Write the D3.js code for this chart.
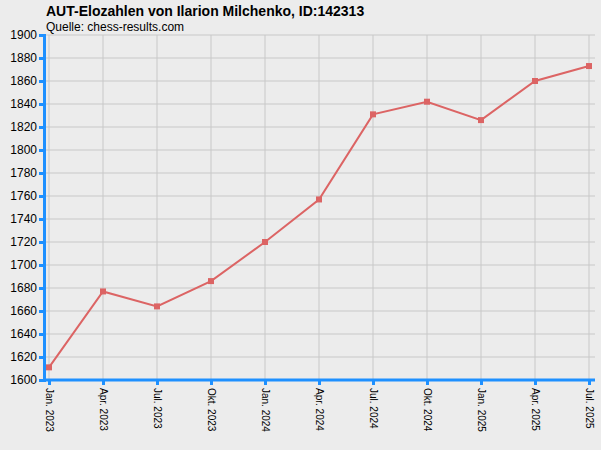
<!DOCTYPE html><html><head><meta charset="utf-8">
<script src="https://cdn.jsdelivr.net/npm/d3@7"></script>
<style>body{margin:0;background:#ececec}svg{display:block}</style></head><body>
<svg id="c" width="601" height="450"></svg>
<script>
const dates=["Jan. 2023","Apr. 2023","Jul. 2023","Okt. 2023","Jan. 2024","Apr. 2024","Jul. 2024","Okt. 2024","Jan. 2025","Apr. 2025","Jul. 2025"];
const elo=[1611,1677,1664,1686,1720,1757,1831,1842,1826,1860,1873];
const yTicks=[1600,1620,1640,1660,1680,1700,1720,1740,1760,1780,1800,1820,1840,1860,1880,1900];
const svg=d3.select("#c");
svg.append("rect").attr("width",601).attr("height",450).attr("fill","#ececec");
const L=44,R=595,T=35,B=380;
const x=d3.scalePoint().domain(dates).range([49,589]);
const y=d3.scaleLinear().domain([1600,1900]).range([B,T]);
const f="Liberation Sans, Arial, sans-serif";
const g=svg.append("g");
yTicks.forEach(t=>g.append("line").attr("x1",L).attr("x2",R).attr("y1",y(t)).attr("y2",y(t)).attr("stroke","#c8c8c8"));
dates.forEach(d=>g.append("line").attr("x1",x(d)).attr("x2",x(d)).attr("y1",T).attr("y2",B).attr("stroke","#c8c8c8"));
const ya=svg.append("g").attr("transform",`translate(${L},0)`).call(d3.axisLeft(y).tickValues(yTicks).tickSize(5).tickPadding(2).tickFormat(d3.format("d")));
const xa=svg.append("g").attr("transform",`translate(0,${B})`).call(d3.axisBottom(x).tickSize(5).tickSizeOuter(0));
[ya,xa].forEach(a=>{a.select(".domain").attr("stroke","#1e90ff").attr("stroke-width",3);a.selectAll(".tick line").attr("stroke","#1e90ff").attr("stroke-width",3);a.selectAll("text").attr("fill","#000").attr("font-family",f).attr("font-size",12);});
xa.selectAll("text").attr("font-size",10).attr("transform","rotate(90)").attr("text-anchor","start").attr("x",8).attr("y",0).attr("dy","0.35em");
xa.select(".domain").attr("d",`M${L},0H${R}`);
const line=d3.line().x((d,i)=>x(dates[i])).y(d=>y(d));
svg.append("path").datum(elo).attr("d",line).attr("fill","none").attr("stroke","#dc6464").attr("stroke-width",2);
svg.selectAll("rect.p").data(elo).enter().append("rect").attr("class","p").attr("x",(d,i)=>x(dates[i])-3).attr("y",d=>y(d)-3).attr("width",6).attr("height",6).attr("fill","#dc6464");
svg.append("text").attr("x",46).attr("y",16).attr("font-family",f).attr("font-weight","bold").attr("font-size",14).text("AUT-Elozahlen von Ilarion Milchenko, ID:142313");
svg.append("text").attr("x",46).attr("y",31).attr("font-family",f).attr("font-size",12).text("Quelle: chess-results.com");
</script></body></html>
